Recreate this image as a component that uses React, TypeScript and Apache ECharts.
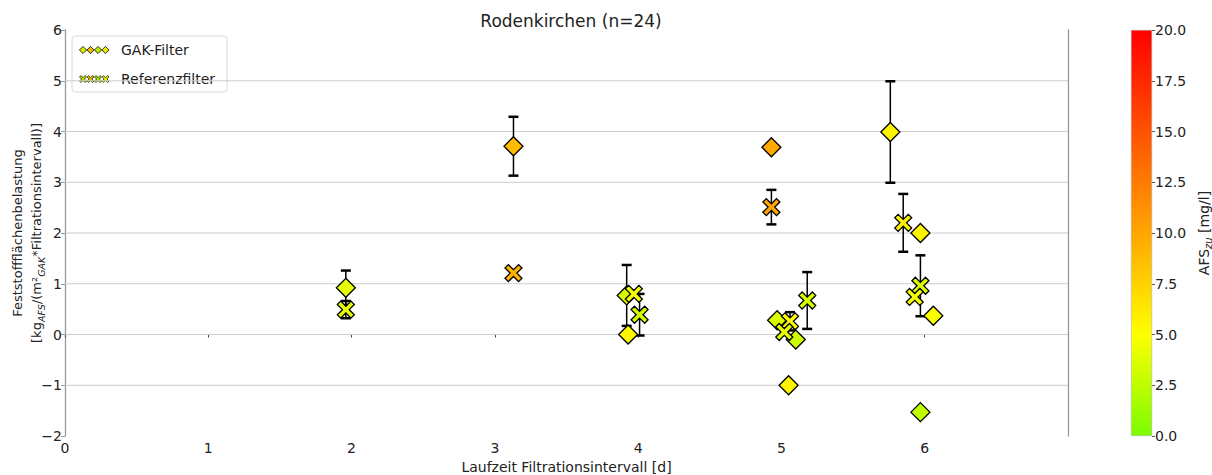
import React, { useEffect, useRef } from "react";
import * as echarts from "echarts";

const FONT = "DejaVu Sans";
const TITLE = "Rodenkirchen (n=24)";
const X_TICKS = [0, 1, 2, 3, 4, 5, 6];
const X_MIN = 0;
const X_MAX = 7;
const Y_MIN = -2;
const Y_MAX = 6;
const Y_GRID = [-1, 0, 1, 2, 3, 4, 5];
const CB_MIN = 0;
const CB_MAX = 20;
const CB_STEP = 2.5;
const CMAP = ["#7cfc00", "#ffff00", "#ffa500", "#ff5200", "#ff0000"];

// GAK-Filter (diamonds)
const gakDays = [1.96, 3.13, 3.93, 3.92, 4.93, 4.97, 5.1, 5.05, 5.76, 5.97, 6.06, 5.97];
const gakLoad = [0.92, 3.71, 0.0, 0.77, 3.69, 0.28, -0.1, -1.0, 3.99, 2.0, 0.37, -1.53];
const gakAfs = [4.0, 8.8, 5.5, 3.6, 9.8, 3.6, 3.0, 5.6, 5.6, 5.6, 4.8, 2.7];
const gakErr = [0.34, 0.58, 0, 0.6, 0, 0, 0, 0, 1.0, 0, 0, 0];

// Referenzfilter (X markers)
const refDays = [1.96, 3.13, 3.97, 4.01, 4.93, 5.18, 5.06, 5.02, 5.85, 5.97, 5.93];
const refLoad = [0.49, 1.21, 0.8, 0.39, 2.51, 0.67, 0.26, 0.05, 2.2, 0.96, 0.74];
const refAfs = [4.0, 9.2, 4.6, 3.2, 10.0, 3.4, 5.0, 4.0, 5.6, 3.6, 4.6];
const refErr = [0.17, 0, 0, 0.41, 0.34, 0.56, 0.18, 0, 0.57, 0.6, 0];

const LEGEND_GAK_COLORS = ["#d8ee00", "#f2b600", "#b8ec00", "#eaf000"];
const LEGEND_REF_COLORS = ["#c0e800", "#e8c000", "#a8e400", "#e2f000"];

const X_PATH = "path://M2,0 L5,3 L8,0 L10,2 L7,5 L10,8 L8,10 L5,7 L2,10 L0,8 L3,5 L0,2 Z";

function diamondPts(cx: number, cy: number, r: number) {
  return [[cx, cy - r], [cx + r, cy], [cx, cy + r], [cx - r, cy]];
}
function xPts(cx: number, cy: number, s: number) {
  const raw = [[2, 0], [5, 3], [8, 0], [10, 2], [7, 5], [10, 8], [8, 10], [5, 7], [2, 10], [0, 8], [3, 5], [0, 2]];
  return raw.map(([a, b]) => [cx + ((a - 5) / 10) * s, cy + ((b - 5) / 10) * s]);
}

export default function App() {
  const ref = useRef<HTMLDivElement>(null);
  useEffect(() => {
    if (!ref.current) return;
    const chart = echarts.init(ref.current, null, { renderer: "svg" });

    const gakData = gakDays.map((d, i) => [d, gakLoad[i], gakAfs[i]]);
    const refData = refDays.map((d, i) => [d, refLoad[i], refAfs[i]]);
    const errData: number[][] = [];
    gakDays.forEach((d, i) => { if (gakErr[i] > 0) errData.push([d, gakLoad[i], gakErr[i]]); });
    refDays.forEach((d, i) => { if (refErr[i] > 0) errData.push([d, refLoad[i], refErr[i]]); });

    const cbGradient = new echarts.graphic.LinearGradient(0, 0, 0, 1,
      CMAP.map((c, i) => ({ offset: i / (CMAP.length - 1), color: CMAP[CMAP.length - 1 - i] })));

    const legendChildren: any[] = [
      { type: "rect", shape: { x: 72, y: 36, width: 155, height: 56, r: 3 }, style: { fill: "rgba(255,255,255,0.85)", stroke: "#d8d8d8", lineWidth: 1 } },
      { type: "text", style: { x: 121, y: 50, text: "GAK-Filter", font: `14px "${FONT}"`, fill: "#222", verticalAlign: "middle" } },
      { type: "text", style: { x: 121, y: 79, text: "Referenzfilter", font: `14px "${FONT}"`, fill: "#222", verticalAlign: "middle" } },
    ];
    LEGEND_GAK_COLORS.forEach((c, i) => {
      legendChildren.push({ type: "polygon", shape: { points: diamondPts(83 + i * 7.5, 50, 3.6) }, style: { fill: c, stroke: "#000", lineWidth: 0.8 } });
    });
    LEGEND_REF_COLORS.forEach((c, i) => {
      legendChildren.push({ type: "polygon", shape: { points: xPts(83 + i * 7.5, 79, 7) }, style: { fill: c, stroke: "#000", lineWidth: 0.7 } });
    });

    const option: any = {
      animation: false,
      backgroundColor: "#fff",
      textStyle: { fontFamily: FONT },
      title: {
        text: TITLE, left: 566, top: 7, textAlign: "center",
        textStyle: { fontSize: 17, fontWeight: "normal", color: "#222", fontFamily: FONT },
      },
      grid: [
        { left: 65, right: 144, top: 30, bottom: 39, outerBoundsMode: "none", containLabel: false },
        { left: 1131, width: 21, top: 30, height: 406, outerBoundsMode: "none", containLabel: false },
      ],
      xAxis: [
        {
          type: "value", gridIndex: 0, min: X_MIN, max: X_MAX, interval: 1,
          name: "Laufzeit Filtrationsintervall [d]", nameLocation: "middle", nameGap: 22,
          nameTextStyle: { fontSize: 14, color: "#222", fontFamily: FONT },
          axisLine: { show: false },
          axisTick: { show: true, length: 3, lineStyle: { color: "#444" }, customValues: X_TICKS },
          axisLabel: { fontSize: 14, color: "#222", margin: 5, fontFamily: FONT, customValues: X_TICKS },
          splitLine: { show: false },
        },
        { type: "category", gridIndex: 1, data: ["c"], show: false },
      ],
      yAxis: [
        {
          type: "value", gridIndex: 0, min: Y_MIN, max: Y_MAX, interval: 1,
          name: "Feststoffflächenbelastung\n[kg{s|AFS}/(m²{s|GAK}*Filtrationsintervall)]",
          nameLocation: "middle", nameGap: 19, nameRotate: 90, nameMoveOverlap: false,
          nameTextStyle: {
            fontSize: 13, color: "#222", fontFamily: FONT, lineHeight: 19,
            rich: { s: { fontSize: 9.5, fontStyle: "italic", verticalAlign: "bottom", lineHeight: 19, color: "#222", fontFamily: FONT } },
          },
          axisLine: { show: true, lineStyle: { color: "#999", width: 1.3 } },
          axisTick: { show: true, length: 4, lineStyle: { color: "#999" } },
          axisLabel: {
            fontSize: 14, color: "#222", margin: 3, fontFamily: FONT,
            formatter: (v: number) => (v < 0 ? "\u2212" + Math.abs(v) : String(v)),
          },
          splitLine: { show: false },
        },
        {
          type: "value", gridIndex: 0, min: Y_MIN, max: Y_MAX, interval: 1, position: "right",
          axisLine: { show: true, lineStyle: { color: "#999", width: 1.3 } },
          axisTick: { show: false }, axisLabel: { show: false }, splitLine: { show: false },
        },
        {
          type: "value", gridIndex: 1, min: CB_MIN, max: CB_MAX, interval: CB_STEP, position: "right",
          name: "AFS{s|zu} [mg/l]", nameLocation: "middle", nameGap: 43, nameRotate: 90,
          nameTextStyle: {
            fontSize: 14, color: "#222", fontFamily: FONT, lineHeight: 18,
            rich: { s: { fontSize: 10, fontStyle: "italic", verticalAlign: "bottom", lineHeight: 18, color: "#222", fontFamily: FONT } },
          },
          axisLine: { show: false },
          axisTick: { show: true, length: 3, lineStyle: { color: "#555" } },
          axisLabel: { fontSize: 14, color: "#222", margin: 3, fontFamily: FONT, formatter: (v: number) => v.toFixed(1) },
          splitLine: { show: false },
        },
      ],
      visualMap: {
        type: "continuous", show: false, min: CB_MIN, max: CB_MAX, dimension: 2,
        seriesIndex: [2, 3], inRange: { color: CMAP },
      },
      series: [
        {
          type: "custom", xAxisIndex: 0, yAxisIndex: 0, z: 1, silent: true,
          data: Y_GRID.map((v) => [X_MIN, v]),
          encode: { y: 1 },
          renderItem: (_p: any, api: any) => {
            const v = api.value(1);
            const a = api.coord([X_MIN, v]);
            const b = api.coord([X_MAX, v]);
            return { type: "line", shape: { x1: a[0], y1: a[1], x2: b[0], y2: b[1] }, style: { stroke: "#cccccc", lineWidth: 1 } };
          },
        },
        {
          type: "custom", xAxisIndex: 0, yAxisIndex: 0, z: 2, silent: true,
          data: errData, encode: { x: 0, y: 1 },
          renderItem: (_p: any, api: any) => {
            const x = api.value(0), y = api.value(1), e = api.value(2);
            const t = api.coord([x, y + e]);
            const b = api.coord([x, y - e]);
            const cw = 5;
            return {
              type: "group",
              children: [
                { type: "line", shape: { x1: t[0], y1: t[1], x2: b[0], y2: b[1] }, style: { stroke: "#000", lineWidth: 1.5 } },
                { type: "line", shape: { x1: t[0] - cw, y1: t[1], x2: t[0] + cw, y2: t[1] }, style: { stroke: "#000", lineWidth: 2.5 } },
                { type: "line", shape: { x1: b[0] - cw, y1: b[1], x2: b[0] + cw, y2: b[1] }, style: { stroke: "#000", lineWidth: 2.5 } },
              ],
            };
          },
        },
        {
          name: "GAK-Filter", type: "scatter", xAxisIndex: 0, yAxisIndex: 0, z: 3,
          symbol: "diamond", symbolSize: 19, data: gakData,
          itemStyle: { borderColor: "#000", borderWidth: 1.3, opacity: 1 },
        },
        {
          name: "Referenzfilter", type: "scatter", xAxisIndex: 0, yAxisIndex: 0, z: 4,
          symbol: X_PATH, symbolSize: 17, data: refData,
          itemStyle: { borderColor: "#000", borderWidth: 1.3, opacity: 1 },
        },
        {
          type: "bar", xAxisIndex: 1, yAxisIndex: 2, data: [CB_MAX], barWidth: "100%", silent: true,
          itemStyle: { color: cbGradient, borderColor: "#aaa", borderWidth: 0.5 },
        },
      ],
      graphic: [{ type: "group", z: 100, children: legendChildren }],
    };
    chart.setOption(option);
    return () => chart.dispose();
  }, []);
  return <div ref={ref} style={{ position: "fixed", left: 0, top: 0, width: 1212, height: 475 }} />;
}
